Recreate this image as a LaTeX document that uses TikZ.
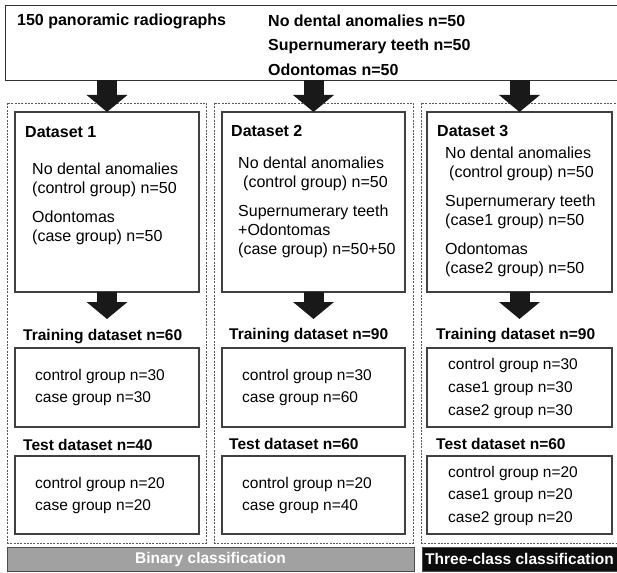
\documentclass[tikz,border=0pt]{standalone}
\usepackage{fontspec}
\setmainfont{Liberation Sans}
\usetikzlibrary{arrows.meta}

\newcommand{\diagfont}{\fontsize{16}{19}\selectfont}
\newcommand{\setfont}{\fontsize{15.5}{22}\selectfont}

\tikzset{
  srcbox/.style={draw=black!80, line width=0.9pt, inner sep=0pt, outer sep=0pt},
  panel/.style={draw=black!65, line width=0.7pt, dash pattern=on 2pt off 1.3pt, inner sep=0pt, outer sep=0pt},
  databox/.style={draw=black!75, line width=1.1pt, inner sep=0pt, outer sep=0pt},
  head/.style={anchor=west, inner sep=0pt, font=\diagfont\bfseries},
  subhead/.style={anchor=west, inner sep=0pt, font=\setfont\bfseries},
  entry/.style={anchor=west, align=left, inner sep=0pt},
  bigarrow/.style={black!90, line width=20pt, -{Triangle[width=40pt,length=17pt]}},
  classbar/.style={draw=black!70, line width=0.8pt, inner sep=0pt, font=\setfont\bfseries, text=white}
}

\begin{document}
\begin{tikzpicture}[x=1pt, y=-1pt, font=\diagfont]
\useasboundingbox (0,0) rectangle (617,572);

% Source box
\node[srcbox, minimum width=615pt, minimum height=75pt] (src) at (312.5,42.5) {};
\node[head] (srcname) at (17,21) {150 panoramic radiographs};
\node[head] (srcnone) at (268,21) {No dental anomalies n=50};
\node[head] (srcsup) at (268,46) {Supernumerary teeth n=50};
\node[head] (srcodo) at (268,70) {Odontomas n=50};

% Dashed panels
\node[panel, minimum width=199pt, minimum height=440pt] (pan1) at (106.5,323) {};
\node[panel, minimum width=199pt, minimum height=440pt] (pan2) at (313.5,323) {};
\node[panel, minimum width=199pt, minimum height=440pt] (pan3) at (520.5,323) {};

% Dataset boxes
\node[databox, minimum width=184pt, minimum height=180pt] (ds1) at (107,202) {};
\node[databox, minimum width=183pt, minimum height=180pt] (ds2) at (313.5,202) {};
\node[databox, minimum width=185pt, minimum height=180pt] (ds3) at (519.5,202) {};

% Arrows from source
\draw[bigarrow] (ds1.north |- src.south) -- (ds1.north);
\draw[bigarrow] (ds2.north |- src.south) -- (ds2.north);
\draw[bigarrow] (ds3.north |- src.south) -- (ds3.north);

% Dataset 1
\node[head] (ds1name) at (25,132) {Dataset 1};
\node[entry] (ds1ctl) at (32,179.5) {No dental anomalies\\(control group) n=50};
\node[entry] (ds1case) at (32,228) {Odontomas\\(case group) n=50};

% Dataset 2
\node[head] (ds2name) at (231,131) {Dataset 2};
\node[entry] (ds2ctl) at (238,174) {No dental anomalies\\\hspace*{5pt}(control group) n=50};
\node[entry] (ds2case) at (238,231) {Supernumerary teeth\\+Odontomas\\(case group) n=50+50};

% Dataset 3
\node[head] (ds3name) at (437,131) {Dataset 3};
\node[entry] (ds3ctl) at (445,164) {No dental anomalies\\\hspace*{4pt}(control group) n=50};
\node[entry] (ds3case1) at (445,212) {Supernumerary teeth\\(case1 group) n=50};
\node[entry] (ds3case2) at (445,260) {Odontomas\\(case2 group) n=50};

% Arrows to training sets
\coordinate (split1) at (107,319);
\coordinate (split2) at (313.5,319);
\coordinate (split3) at (519.5,319);
\draw[bigarrow] (ds1.south) -- (split1);
\draw[bigarrow] (ds2.south) -- (split2);
\draw[bigarrow] (ds3.south) -- (split3);

% Training datasets
\node[subhead] (tr1name) at (23,337) {Training dataset n=60};
\node[subhead] (tr2name) at (229,336) {Training dataset n=90};
\node[subhead] (tr3name) at (436,336) {Training dataset n=90};
\node[databox, minimum width=184pt, minimum height=79pt] (tr1) at (107,387.5) {};
\node[databox, minimum width=183pt, minimum height=79pt] (tr2) at (313.5,387.5) {};
\node[databox, minimum width=185pt, minimum height=79pt] (tr3) at (519.5,387.5) {};
\node[entry, font=\setfont] (tr1txt) at (35,387.5) {control group n=30\\case group n=30};
\node[entry, font=\setfont] (tr2txt) at (242,387) {control group n=30\\case group n=60};
\node[entry, font=\fontsize{15.5}{23}\selectfont] (tr3txt) at (448,388) {control group n=30\\case1 group n=30\\case2 group n=30};

% Test datasets
\node[subhead] (te1name) at (23,445) {Test dataset n=40};
\node[subhead] (te2name) at (229,444) {Test dataset n=60};
\node[subhead] (te3name) at (436,444) {Test dataset n=60};
\node[databox, minimum width=184pt, minimum height=78pt] (te1) at (107,495) {};
\node[databox, minimum width=183pt, minimum height=78pt] (te2) at (313.5,495) {};
\node[databox, minimum width=185pt, minimum height=78pt] (te3) at (519.5,495) {};
\node[entry, font=\setfont] (te1txt) at (35,495) {control group n=20\\case group n=20};
\node[entry, font=\setfont] (te2txt) at (242,495) {control group n=20\\case group n=40};
\node[entry, font=\fontsize{15.5}{22.5}\selectfont] (te3txt) at (448,495.5) {control group n=20\\case1 group n=20\\case2 group n=20};

% Classification bars
\node[classbar, fill=black!37, minimum width=407pt, minimum height=24pt] (binary) at (210.5,559) {Binary classification};
\node[classbar, fill=black!95, minimum width=195pt, minimum height=24pt] (threeclass) at (519.5,559) {Three-class classification};
\end{tikzpicture}
\end{document}
